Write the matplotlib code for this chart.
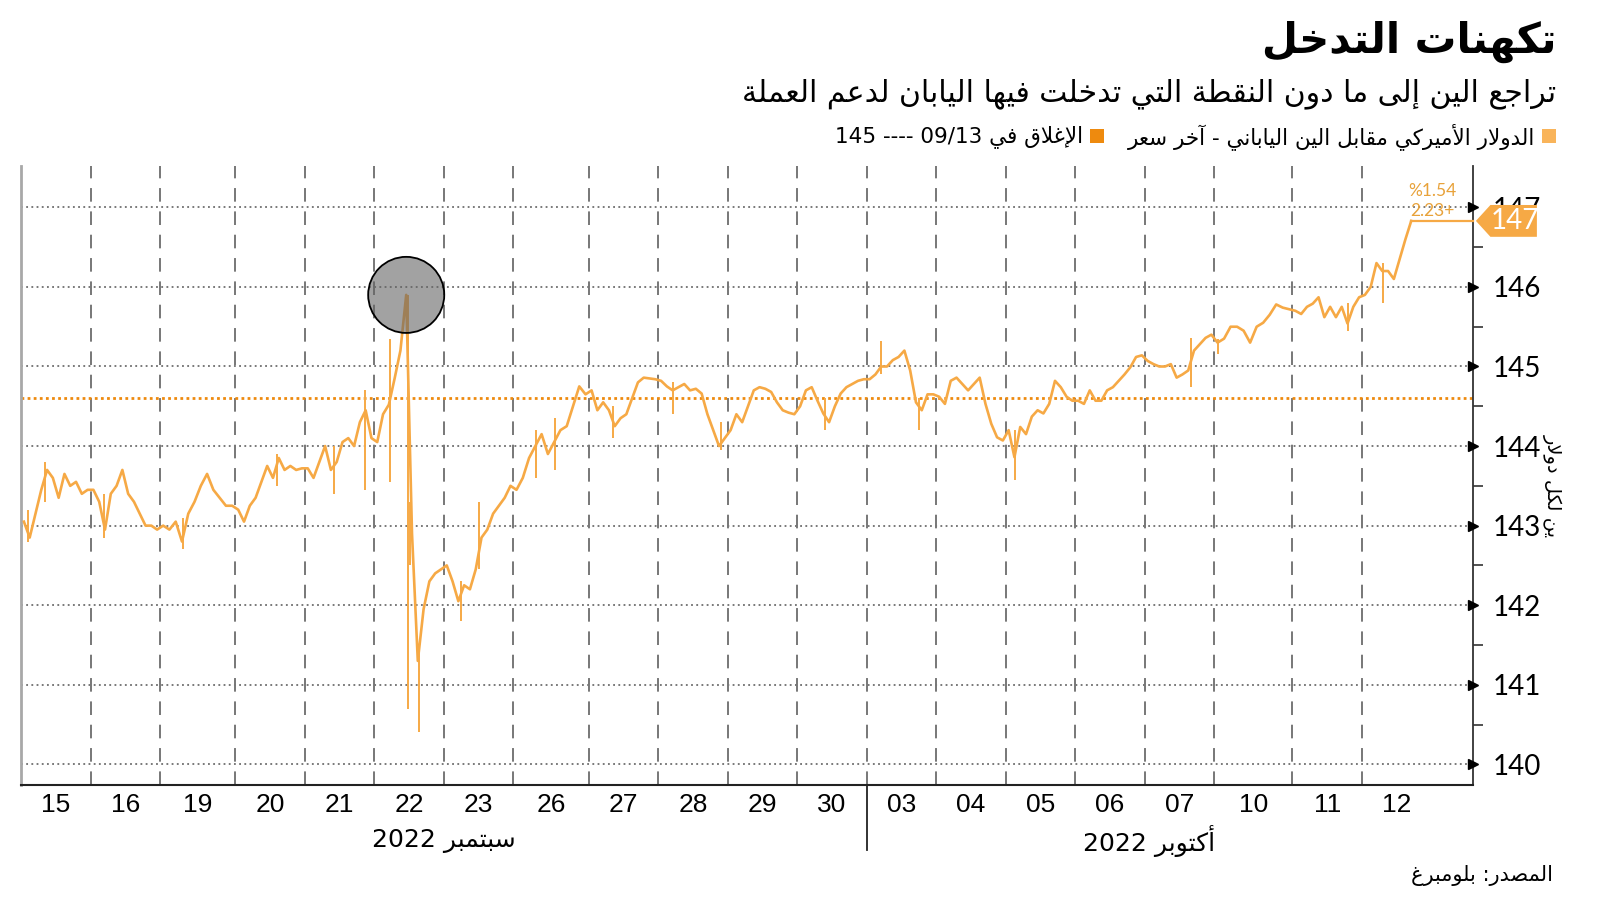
import numpy as np
import matplotlib
matplotlib.use("Agg")
import matplotlib.pyplot as plt
import matplotlib.transforms as mtrans
from matplotlib.patches import Polygon, Rectangle
from matplotlib import font_manager

# ---------------------------------------------------------------- data
day_labels = ['15', '16', '19', '20', '21', '22', '23', '26', '27', '28', '29', '30',
              '03', '04', '05', '06', '07', '10', '11', '12']
# trading hours shown per day (mondays carry a bit of sunday evening)
day_hours = [24, 24, 26, 24, 24, 24, 24, 26, 24, 24, 24, 24,
             24, 24, 24, 24, 24, 27, 24, 24]

sep15 = [143.05, 142.85, 143.15, 143.45, 143.7, 143.6, 143.35, 143.65, 143.5, 143.55, 143.4, 143.45]
sep16 = [143.45, 143.3, 142.95, 143.4, 143.5, 143.7, 143.4, 143.3, 143.15, 143.0, 143.0, 142.95]
sep19 = [143.0, 142.95, 143.05, 142.8, 143.15, 143.3, 143.5, 143.65, 143.45, 143.35, 143.25, 143.25]
sep20 = [143.2, 143.05, 143.25, 143.35, 143.55, 143.75, 143.6, 143.85, 143.7, 143.75, 143.7, 143.72]
sep21 = [143.72, 143.6, 143.8, 144.0, 143.7, 143.8, 144.05, 144.1, 144.0, 144.3, 144.45, 144.1]
sep22 = [144.05, 144.4, 144.52, 144.85, 145.2, 145.9, 142.9, 141.3, 141.95, 142.3, 142.4, 142.45]
sep23 = [142.5, 142.3, 142.05, 142.25, 142.2, 142.45, 142.85, 142.95, 143.15, 143.25, 143.35, 143.5]
sep26 = [143.45, 143.6, 143.85, 144.0, 144.15, 143.9, 144.05, 144.2, 144.25, 144.5, 144.75, 144.65]
sep27 = [144.7, 144.45, 144.55, 144.45, 144.25, 144.35, 144.4, 144.6, 144.8, 144.86, 144.85, 144.84]
sep28 = [144.82, 144.75, 144.7, 144.74, 144.78, 144.7, 144.72, 144.66, 144.4, 144.2, 144.0, 144.1]
sep29 = [144.2, 144.4, 144.3, 144.5, 144.7, 144.74, 144.72, 144.68, 144.55, 144.45, 144.42, 144.4]
sep30 = [144.5, 144.7, 144.74, 144.57, 144.41, 144.3, 144.5, 144.66, 144.74, 144.78, 144.82, 144.84]
oct03 = [144.84, 144.9, 145.0, 145.0, 145.08, 145.12, 145.2, 144.95, 144.55, 144.45, 144.65, 144.65]
oct04 = [144.62, 144.53, 144.82, 144.86, 144.78, 144.7, 144.78, 144.86, 144.53, 144.28, 144.11, 144.07]
oct05 = [144.2, 143.86, 144.24, 144.15, 144.37, 144.45, 144.41, 144.53, 144.82, 144.74, 144.62, 144.57]
oct06 = [144.57, 144.53, 144.7, 144.57, 144.57, 144.7, 144.74, 144.82, 144.9, 144.99, 145.12, 145.14]
oct07 = [145.07, 145.03, 145.0, 145.0, 145.03, 144.86, 144.9, 144.95, 145.2, 145.28, 145.36, 145.4]
oct10 = [145.3, 145.35, 145.5, 145.5, 145.45, 145.3, 145.5, 145.55, 145.65, 145.78, 145.74, 145.72]
oct11 = [145.7, 145.66, 145.75, 145.79, 145.87, 145.62, 145.75, 145.62, 145.75, 145.54, 145.75, 145.87]
oct12 = [145.9, 146.0, 146.3, 146.2, 146.2, 146.1, 146.35, 146.6, 146.83]

days = [sep15, sep16, sep19, sep20, sep21, sep22, sep23, sep26, sep27, sep28, sep29, sep30,
        oct03, oct04, oct05, oct06, oct07, oct10, oct11, oct12]
SLOTS = 12  # readings per day
INTERVENTION_DAY = 5  # sep 22

# intraday high/low wicks: (day index, fraction of day, low, high)
spikes = [
    (0, 0.10, 142.8, 143.2), (0, 0.35, 143.3, 143.8), (1, 0.20, 142.85, 143.4),
    (2, 0.30, 142.7, 143.1), (3, 0.60, 143.5, 143.9), (4, 0.42, 143.4, 144.0),
    (4, 0.86, 143.45, 144.7), (5, 0.22, 143.55, 145.35), (5, 0.49, 140.7, 145.9),
    (5, 0.52, 142.5, 143.3), (5, 0.64, 140.4, 141.4), (6, 0.25, 141.8, 142.3),
    (6, 0.50, 142.45, 143.3), (7, 0.30, 143.6, 144.2), (7, 0.55, 143.7, 144.35),
    (8, 0.35, 144.1, 144.5), (9, 0.21, 144.4, 144.8), (9, 0.90, 143.95, 144.3),
    (11, 0.40, 144.2, 144.6), (12, 0.20, 144.9, 145.32), (12, 0.75, 144.2, 144.6),
    (14, 0.13, 143.57, 144.2), (16, 0.67, 144.74, 145.36), (17, 0.05, 145.16, 145.35),
    (18, 0.80, 145.45, 145.8), (19, 0.30, 145.8, 146.3),
]

close_0913 = 144.6
chg_pct = '%1.54'
chg_abs = '2.23+'

title = 'تكهنات التدخل'
subtitle = 'تراجع الين إلى ما دون النقطة التي تدخلت فيها اليابان لدعم العملة'
legend1 = 'الدولار الأميركي مقابل الين الياباني - آخر سعر'
legend2 = 'الإغلاق في 09/13 ---- 145'
ylabel = 'ين لكل دولار'
month1 = 'سبتمبر 2022'
month2 = 'أكتوبر 2022'
source = 'المصدر: بلومبرغ'

# ---------------------------------------------------------------- arabic shaping
# matplotlib does no shaping / bidi, so map to presentation forms by hand
FORMS = {
    'ا': (0xFE8D, 2), 'أ': (0xFE83, 2), 'إ': (0xFE87, 2), 'آ': (0xFE81, 2),
    'ب': (0xFE8F, 4), 'ة': (0xFE93, 2), 'ت': (0xFE95, 4), 'ج': (0xFE9D, 4),
    'خ': (0xFEA5, 4), 'د': (0xFEA9, 2), 'ر': (0xFEAD, 2), 'س': (0xFEB1, 4),
    'ص': (0xFEB9, 4), 'ط': (0xFEC1, 4), 'ع': (0xFEC9, 4), 'غ': (0xFECD, 4),
    'ف': (0xFED1, 4), 'ق': (0xFED5, 4), 'ك': (0xFED9, 4), 'ل': (0xFEDD, 4),
    'م': (0xFEE1, 4), 'ن': (0xFEE5, 4), 'ه': (0xFEE9, 4), 'و': (0xFEED, 2),
    'ى': (0xFEEF, 2), 'ي': (0xFEF1, 4),
}
LAM_ALEF = {'ا': 0xFEFB, 'أ': 0xFEF7, 'إ': 0xFEF9, 'آ': 0xFEF5}


def shape_word(w):
    units = []
    i = 0
    while i < len(w):
        c = w[i]
        if c == 'ل' and i + 1 < len(w) and w[i + 1] in LAM_ALEF:
            units.append((LAM_ALEF[w[i + 1]], 2))
            i += 2
            continue
        units.append(FORMS.get(c, c))
        i += 1
    out = []
    for j, u in enumerate(units):
        if isinstance(u, str):
            out.append(u)
            continue
        base, n = u
        prev = units[j - 1] if j > 0 else None
        nxt = units[j + 1] if j + 1 < len(units) else None
        jp = isinstance(prev, tuple) and prev[1] == 4
        jn = n == 4 and isinstance(nxt, tuple)
        if jp and jn:
            out.append(chr(base + 3))
        elif jp:
            out.append(chr(base + 1))
        elif jn:
            out.append(chr(base + 2))
        else:
            out.append(chr(base))
    return ''.join(out)


def ar(text):
    vis = []
    for t in text.split(' '):
        if any(c in FORMS for c in t):
            vis.append(shape_word(t)[::-1])
        else:
            vis.append(t)
    return ' '.join(vis[::-1])


# ---------------------------------------------------------------- fonts / colours
installed = {f.name for f in font_manager.fontManager.ttflist}
NUM = 'Lato' if 'Lato' in installed else 'DejaVu Sans'
XNUM = 'Liberation Sans' if 'Liberation Sans' in installed else 'DejaVu Sans'
ARF = 'DejaVu Sans'

LINE = '#F6A945'
DARK_OR = '#EE8A0E'
TXT_OR = '#E8A23A'

# ---------------------------------------------------------------- x positions
starts = np.concatenate([[0], np.cumsum(day_hours)[:-1]])
xs, ys, dix = [], [], []
for d, vals in enumerate(days):
    for k, v in enumerate(vals):
        xs.append(starts[d] + (k + 0.5) / SLOTS * day_hours[d])
        ys.append(v)
        dix.append(d)
xs = np.array(xs)
ys = np.array(ys)
dix = np.array(dix)
xmax = (starts[-1]) * 1452 / (1362 - 21)

# ---------------------------------------------------------------- figure
fig = plt.figure(figsize=(16, 9.01), dpi=100)
ax = fig.add_axes([21 / 1600, 1 - 785 / 901, 1452 / 1600, 619 / 901])
ax.set_xlim(0, xmax)
ax.set_ylim(139.74, 147.52)

yt = np.arange(140, 148)
for v in yt:
    ax.axhline(v, color='#555555', lw=1.1, ls=(0, (1.2, 2.2)), zorder=1)
for b in starts[1:]:
    ax.axvline(b, color='#777777', lw=1.4, ls=(0, (7, 5)), zorder=1)
ax.axhline(close_0913, color=DARK_OR, lw=2.0, ls=(0, (1, 1.2)), zorder=2)

# price line + wicks
ax.plot(xs, ys, color=LINE, lw=1.9, zorder=3)
for d, f, lo, hi in spikes:
    xx = starts[d] + f * day_hours[d]
    ax.vlines(xx, lo, hi, color=LINE, lw=1.4, zorder=3)

# last price guide
ax.plot([xs[-1], xmax], [ys[-1], ys[-1]], color=LINE, lw=1.6, zorder=3, clip_on=False)

# intervention circle on the sep 22 peak
sel = np.where(dix == INTERVENTION_DAY)[0]
ipk = sel[np.argmax(ys[sel])]
ax.scatter([xs[ipk]], [ys[ipk]], s=3000, facecolor='#646464', alpha=0.6,
           edgecolor='none', zorder=4)
ax.scatter([xs[ipk]], [ys[ipk]], s=3000, facecolor='none', edgecolor='black',
           linewidth=1.3, zorder=5)

# change annotation
bl = mtrans.blended_transform_factory(ax.transAxes, ax.transData)
ax.text(0.972, 147.2, chg_pct, transform=bl, ha='center', va='center',
        fontsize=12.5, color=TXT_OR, family=NUM)
ax.text(0.972, 146.96, chg_abs, transform=bl, ha='center', va='center',
        fontsize=12.5, color=TXT_OR, family=NUM)

# axes styling
ax.spines['top'].set_visible(False)
ax.spines['left'].set_color('#a8a8a8')
ax.spines['left'].set_linewidth(2)
ax.spines['bottom'].set_color('#222222')
ax.spines['bottom'].set_linewidth(1.5)
ax.spines['right'].set_color('#333333')
ax.spines['right'].set_linewidth(1.3)

ax.yaxis.tick_right()
ax.set_yticks(yt)
ax.set_yticklabels([str(v) for v in yt], family=NUM)
ax.set_yticks(np.arange(140.5, 147.5, 1), minor=True)
ax.tick_params(axis='y', which='major', length=0, pad=14, labelsize=20)
ax.tick_params(axis='y', which='minor', length=7, width=1.2, direction='out', color='#333333')

centers = starts + np.array(day_hours) / 2
ax.set_xticks(centers)
ax.set_xticklabels(day_labels, family=XNUM)
ax.tick_params(axis='x', length=0, pad=6, labelsize=19)

ax.plot(np.ones(len(yt)), yt, ls='none', marker='>', ms=7, color='black',
        transform=bl, clip_on=False, zorder=6)

# last price tag
last = ys[-1]
tag = Polygon([(1.002, last), (1.012, last + 0.2), (1.044, last + 0.2),
               (1.044, last - 0.2), (1.012, last - 0.2)], closed=True,
              transform=bl, facecolor=LINE, edgecolor='none', clip_on=False, zorder=7)
ax.add_patch(tag)
ax.text(1.029, last, str(int(round(last))), transform=bl, ha='center', va='center',
        color='white', fontsize=20, family=NUM, zorder=8)

# month labels and separator
bx = mtrans.blended_transform_factory(ax.transData, ax.transAxes)
ax.plot([starts[12], starts[12]], [0, -0.105], color='#222222', lw=1.3,
        transform=bx, clip_on=False)
ax.text((starts[0] + starts[12]) / 2, -0.09, ar(month1), transform=bx, ha='center', va='center',
        fontsize=18, family=ARF)
ax.text((starts[12] + starts[-1] + day_hours[-1]) / 2, -0.09, ar(month2), transform=bx,
        ha='center', va='center', fontsize=18, family=ARF)

# ---------------------------------------------------------------- header / footer
fig.text(1556 / 1600, 1 - 42 / 901, ar(title), ha='right', va='center', fontsize=30,
         fontweight='bold', family=ARF)
fig.text(1556 / 1600, 1 - 94 / 901, ar(subtitle), ha='right', va='center', fontsize=21.5, family=ARF)

fig.patches.append(Rectangle((1542 / 1600, 1 - 143 / 901), 14 / 1600, 14 / 901,
                             transform=fig.transFigure, facecolor='#F9B45A', edgecolor='none'))
fig.text(1535 / 1600, 1 - 137 / 901, ar(legend1), ha='right', va='center', fontsize=15.5, family=ARF)
fig.patches.append(Rectangle((1090 / 1600, 1 - 143 / 901), 14 / 1600, 14 / 901,
                             transform=fig.transFigure, facecolor=DARK_OR, edgecolor='none'))
fig.text(1083 / 1600, 1 - 137 / 901, ar(legend2), ha='right', va='center', fontsize=15.5, family=ARF)

fig.text(1553 / 1600, 1 - 485 / 901, ar(ylabel), ha='center', va='center', rotation=-90,
         fontsize=14, family=ARF)
fig.text(1553 / 1600, 1 - 875 / 901, ar(source), ha='right', va='center', fontsize=15, family=ARF)

fig.savefig('out.png', dpi=100, facecolor='white')
